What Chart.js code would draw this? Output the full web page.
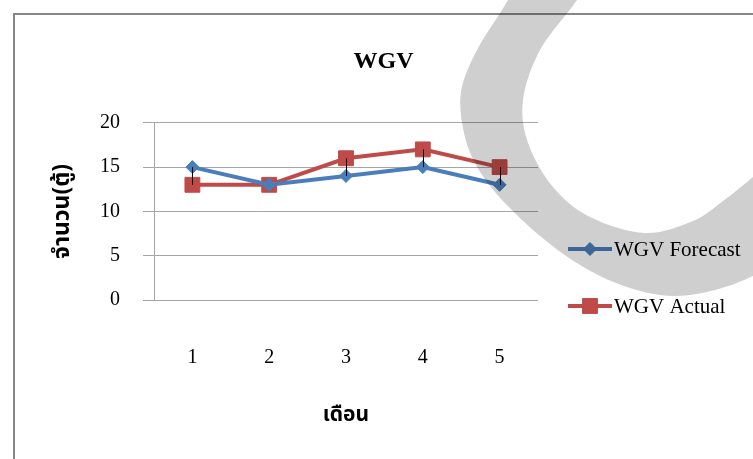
<!DOCTYPE html>
<html>
<head>
<meta charset="utf-8">
<script src="https://cdn.jsdelivr.net/npm/chart.js@4.4.1/dist/chart.umd.min.js"></script>
<style>
  html, body { margin: 0; padding: 0; background: #ffffff; }
  #wrap { width: 753px; height: 459px; position: relative; }
</style>
</head>
<body>
<div id="wrap"><canvas id="c" width="753" height="459"></canvas></div>
<script>
// ---- data ----
const months = ['1', '2', '3', '4', '5'];
const forecast = [15, 13, 14, 15, 13];
const actual = [13, 13, 16, 17, 15];
const yTicks = [0, 5, 10, 15, 20];
const seriesNames = ['WGV Forecast', 'WGV Actual'];
const chartTitle = 'WGV';
const xTitle = 'เดือน';
const yTitle = 'จำนวน(ตู้)';

// ---- style ----
const SERIF = '"Liberation Serif", "Times New Roman", serif';
const THAI = '"Noto Sans Thai", "Noto Serif Thai", Loma, Garuda, Norasi, "Tlwg Typo", "DejaVu Sans", sans-serif';
const BLUE = '#4a7ebb';
const RED = '#be4b48';
const GRID = '#a6a6a6';

// outer frame of the chart sheet
const framePlugin = {
  id: 'frame',
  beforeDraw(chart) {
    const ctx = chart.ctx;
    ctx.save();
    ctx.fillStyle = '#ffffff';
    ctx.fillRect(0, 0, chart.width, chart.height);
    ctx.strokeStyle = '#868686';
    ctx.lineWidth = 2;
    ctx.beginPath();
    ctx.moveTo(14, chart.height);
    ctx.lineTo(14, 14);
    ctx.lineTo(chart.width, 14);
    ctx.stroke();
    ctx.restore();
  }
};

// high-low lines joining the two series at each month
const hiLoPlugin = {
  id: 'hiLo',
  afterDatasetsDraw(chart) {
    const ctx = chart.ctx;
    const xs = chart.scales.x, ys = chart.scales.y;
    ctx.save();
    ctx.strokeStyle = '#000000';
    ctx.lineWidth = 1;
    months.forEach((m, i) => {
      const x = Math.round(xs.getPixelForValue(i)) + 0.5;
      const y1 = ys.getPixelForValue(forecast[i]);
      const y2 = ys.getPixelForValue(actual[i]);
      if (Math.abs(y1 - y2) < 0.5) return;
      ctx.beginPath();
      ctx.moveTo(x, y1);
      ctx.lineTo(x, y2);
      ctx.stroke();
    });
    ctx.restore();
  }
};

// legend: line sample with its marker, then the series name
const legendPlugin = {
  id: 'sideLegend',
  afterDraw(chart) {
    const ctx = chart.ctx;
    const rows = [249, 306];
    chart.data.datasets.forEach((ds, i) => {
      const y = rows[i];
      const x0 = 568, x1 = 612;
      ctx.save();
      ctx.strokeStyle = ds.borderColor;
      ctx.lineWidth = ds.borderWidth;
      ctx.beginPath();
      ctx.moveTo(x0, y);
      ctx.lineTo(x1, y);
      ctx.stroke();
      ctx.fillStyle = ds.pointBackgroundColor;
      ctx.strokeStyle = ds.pointBorderColor;
      ctx.lineWidth = 1;
      Chart.helpers.drawPoint(ctx, {
        pointStyle: ds.pointStyle,
        radius: ds.pointRadius,
        borderWidth: 1,
        rotation: 0
      }, (x0 + x1) / 2, y);
      ctx.fillStyle = '#000000';
      ctx.font = '21px ' + SERIF;
      ctx.textBaseline = 'middle';
      ctx.textAlign = 'left';
      ctx.fillText(ds.label, x1 + 2, y + 1);
      ctx.restore();
    });
  }
};

// decorative grey swoosh laid over the sheet (multiplied, so things under it darken)
const swooshOuter = [[520, -30], [508, 0], [477, 50], [461, 92], [464, 133], [476, 165], [495, 192],
  [520, 218], [545, 240], [572, 260], [600, 276], [630, 288], [660, 295], [690, 295], [722, 288],
  [753, 276], [800, 252]];
const swooshInner = [[592, -30], [577, 0], [540, 50], [523, 100], [528, 143], [553, 187], [590, 217],
  [645, 233], [693, 221], [723, 201], [753, 177], [790, 145]];
function smoothPath(ctx, pts, moveFirst) {
  if (moveFirst) ctx.moveTo(pts[0][0], pts[0][1]); else ctx.lineTo(pts[0][0], pts[0][1]);
  for (let i = 0; i < pts.length - 1; i++) {
    const p0 = pts[Math.max(i - 1, 0)], p1 = pts[i], p2 = pts[i + 1], p3 = pts[Math.min(i + 2, pts.length - 1)];
    ctx.bezierCurveTo(
      p1[0] + (p2[0] - p0[0]) / 6, p1[1] + (p2[1] - p0[1]) / 6,
      p2[0] - (p3[0] - p1[0]) / 6, p2[1] - (p3[1] - p1[1]) / 6,
      p2[0], p2[1]);
  }
}
const swooshPlugin = {
  id: 'swoosh',
  afterDraw(chart) {
    const ctx = chart.ctx;
    ctx.save();
    ctx.globalCompositeOperation = 'multiply';
    ctx.fillStyle = '#cfcfcf';
    ctx.beginPath();
    smoothPath(ctx, swooshOuter, true);
    smoothPath(ctx, swooshInner.slice().reverse(), false);
    ctx.closePath();
    ctx.fill();
    ctx.restore();
  }
};

new Chart(document.getElementById('c'), {
  type: 'line',
  data: {
    labels: months,
    datasets: [
      {
        label: seriesNames[0],
        data: forecast,
        borderColor: BLUE,
        borderWidth: 4,
        pointStyle: 'rectRot',
        pointRadius: 6.5,
        pointBackgroundColor: BLUE,
        pointBorderColor: BLUE,
        pointBorderWidth: 1,
        tension: 0
      },
      {
        label: seriesNames[1],
        data: actual,
        borderColor: RED,
        borderWidth: 4,
        pointStyle: 'rect',
        pointRadius: 10.5,
        pointBackgroundColor: RED,
        pointBorderColor: RED,
        pointBorderWidth: 1,
        tension: 0
      }
    ]
  },
  options: {
    responsive: false,
    animation: false,
    devicePixelRatio: 1,
    layout: { padding: { left: 14, top: 14, right: 0, bottom: 0 } },
    plugins: {
      legend: { display: false },
      tooltip: { enabled: false },
      title: {
        display: true,
        text: chartTitle,
        color: '#000000',
        font: { family: SERIF, size: 24, weight: 'bold', lineHeight: 1.2 },
        padding: { top: 33, bottom: 47 }
      }
    },
    scales: {
      x: {
        offset: true,
        grid: { display: false, drawTicks: false },
        border: { display: false },
        ticks: { color: '#000000', font: { family: SERIF, size: 20 }, padding: 46 },
        title: {
          display: true,
          text: xTitle,
          color: '#000000',
          font: { family: THAI, size: 21, weight: 'bold', lineHeight: 1.2 },
          padding: { top: 0, bottom: 30 }
        },
        afterFit(s) { s.height = 159; }
      },
      y: {
        min: 0,
        max: 20,
        afterBuildTicks(s) { s.ticks = yTicks.map(v => ({ value: v })); },
        grid: { color: GRID, lineWidth: 1, tickLength: 11, drawTicks: true },
        border: { display: true, color: GRID, width: 1 },
        ticks: { color: '#000000', font: { family: SERIF, size: 20 }, padding: 23 },
        title: {
          display: true,
          text: yTitle,
          color: '#000000',
          font: { family: THAI, size: 23, weight: 'bold', lineHeight: 1.2 },
          padding: { top: 37, bottom: 0 }
        },
        afterFit(s) { s.width = 140; }
      },
      side: {
        position: 'right',
        display: true,
        grid: { display: false, drawTicks: false },
        border: { display: false },
        ticks: { display: false },
        afterFit(s) { s.width = 215; }
      }
    }
  },
  plugins: [framePlugin, hiLoPlugin, legendPlugin, swooshPlugin]
});
</script>
</body>
</html>
